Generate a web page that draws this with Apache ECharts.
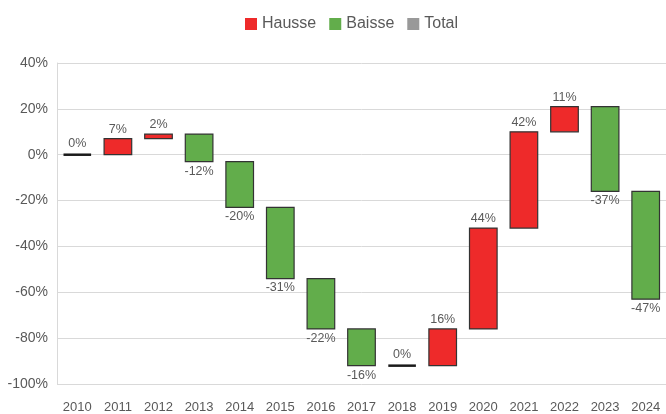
<!DOCTYPE html>
<html>
<head>
<meta charset="utf-8">
<script src="https://cdn.jsdelivr.net/npm/echarts@6/dist/echarts.min.js"></script>
<style>
  html, body { margin: 0; padding: 0; background: #fff; }
  #chart { width: 666px; height: 414px; }
</style>
</head>
<body>
<div id="chart"></div>
<script>
// Yearly change (in %), waterfall from 2010
const years = ['2010', '2011', '2012', '2013', '2014', '2015', '2016', '2017',
               '2018', '2019', '2020', '2021', '2022', '2023', '2024'];
const changes = [0, 7, 2, -12, -20, -31, -22, -16, 0, 16, 44, 42, 11, -37, -47];
const kinds = ['Total', 'Hausse', 'Hausse', 'Baisse', 'Baisse', 'Baisse', 'Baisse', 'Baisse',
               'Hausse', 'Hausse', 'Hausse', 'Hausse', 'Hausse', 'Baisse', 'Baisse'];
const yTicks = { min: -100, max: 40, interval: 20 };

const FONT = '"Liberation Sans", Arial, sans-serif';
const TEXT_COLOR = '#595959';

// running total: each step spans [start, end]
const steps = [];
let running = 0;
changes.forEach((d, i) => {
  const start = kinds[i] === 'Total' ? 0 : running;
  const end = kinds[i] === 'Total' ? d : running + d;
  steps.push([i, start, end, d]);
  running = end;
});

function seriesData(kind) {
  return steps.filter((s, i) => kinds[i] === kind);
}

function renderStep(params, api) {
  const idx = api.value(0);
  const a = api.value(1), b = api.value(2), d = api.value(3);
  const hi = Math.max(a, b), lo = Math.min(a, b);
  const pHi = api.coord([idx, hi]);
  const pLo = api.coord([idx, lo]);
  const w = api.size([1, 0])[0] * 0.68;
  const x = pHi[0] - w / 2;
  const children = [];
  const h = pLo[1] - pHi[1];
  if (h < 0.5) {
    children.push({
      type: 'line',
      shape: { x1: x, y1: pHi[1], x2: x + w, y2: pHi[1] },
      style: { stroke: '#1a1a1a', lineWidth: 2.5 }
    });
  } else {
    children.push({
      type: 'rect',
      shape: { x: x, y: pHi[1], width: w, height: h },
      style: { fill: api.visual('color'), stroke: '#333', lineWidth: 1.2 }
    });
  }
  const below = d < 0;
  children.push({
    type: 'text',
    style: {
      text: d + '%',
      x: pHi[0],
      y: below ? pLo[1] + 3 : pHi[1] - (h < 0.5 ? 5 : 3),
      align: 'center',
      verticalAlign: below ? 'top' : 'bottom',
      fontSize: 12.5,
      fontFamily: FONT,
      fill: TEXT_COLOR
    }
  });
  return { type: 'group', children: children };
}

function makeSeries(name, color) {
  return {
    name: name,
    type: 'custom',
    renderItem: renderStep,
    itemStyle: { color: color },
    encode: { x: 0, y: [1, 2] },
    data: seriesData(name)
  };
}

const chart = echarts.init(document.getElementById('chart'), null, { renderer: 'canvas' });
chart.setOption({
  backgroundColor: '#ffffff',
  animation: false,
  legend: {
    top: 11,
    left: 240,
    icon: 'rect',
    itemWidth: 12,
    itemHeight: 12,
    itemGap: 13,
    data: ['Hausse', 'Baisse', 'Total'],
    textStyle: { fontSize: 16, fontFamily: FONT, color: TEXT_COLOR }
  },
  grid: { left: 57, right: -6, top: 63, bottom: 30 },
  xAxis: {
    type: 'category',
    data: years,
    boundaryGap: true,
    axisTick: { show: false },
    axisLine: { show: false },
    axisLabel: { interval: 0, fontSize: 13, fontFamily: FONT, color: TEXT_COLOR, margin: 17 }
  },
  yAxis: {
    type: 'value',
    min: yTicks.min,
    max: yTicks.max,
    interval: yTicks.interval,
    axisLine: { show: true, lineStyle: { color: '#d9d9d9', width: 1 } },
    axisTick: { show: false },
    splitLine: { lineStyle: { color: '#d9d9d9', width: 1 } },
    axisLabel: { fontSize: 14, fontFamily: FONT, color: TEXT_COLOR, margin: 9,
                 formatter: v => v + '%' }
  },
  series: [
    makeSeries('Hausse', '#ee2a2a'),
    makeSeries('Baisse', '#62ad4b'),
    makeSeries('Total', '#999999')
  ]
});
</script>
</body>
</html>
